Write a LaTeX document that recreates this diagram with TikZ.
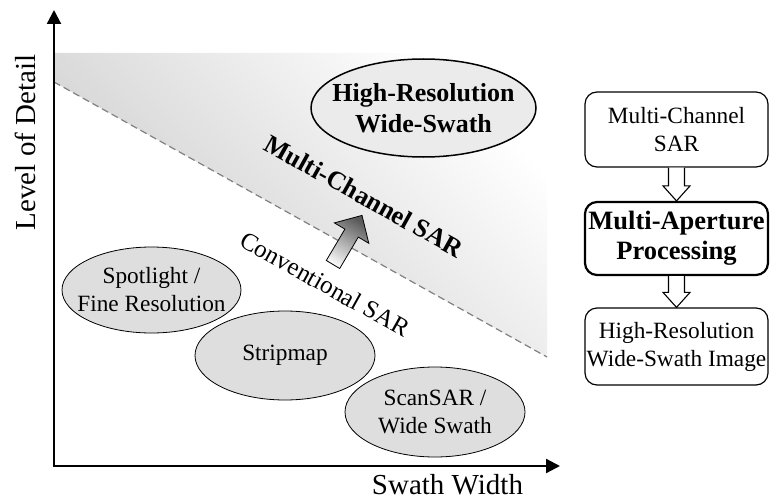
\documentclass[tikz,border=0pt]{standalone}
\usepackage{fontspec}
\setmainfont{Liberation Serif}
\usetikzlibrary{shapes.geometric,arrows.meta,calc}
\begin{document}
\begin{tikzpicture}[x=1pt,y=-1pt,
  lbl/.style={font=\fontsize{23.3}{28}\selectfont, align=center, inner sep=0pt},
  mode/.style={ellipse, draw, line width=0.8pt, fill=black!13, inner sep=0pt},
  axislbl/.style={font=\fontsize{29}{34}\selectfont, inner sep=0pt},
  flowbox/.style={rectangle, rounded corners=12pt, draw, line width=1.2pt, minimum width=183pt, inner sep=0pt, lbl},
  hollow/.style={draw, line width=1.1pt, fill=white, line join=miter},
  axisline/.style={line width=2.2pt, {Triangle[length=14pt,width=14pt]}-{Triangle[length=14pt,width=14pt]}},
]
\useasboundingbox (0,0) rectangle (770,500);
% shaded band
\coordinate (bandTL) at (54,53);
\coordinate (bandTR) at (547,53);
\coordinate (bandBR) at (547,357);
\coordinate (bandBL) at (54,82);
\shade[top color=white, bottom color=black!21, shading angle=-45] (bandTL) -- (bandTR) -- (bandBR) -- (bandBL) -- cycle;
\draw[black!50, line width=1.2pt, dash pattern=on 7pt off 4pt] (bandBL) -- (bandBR);
% axes
\coordinate (O) at (54,466);
\coordinate (ytip) at (54,10);
\coordinate (xtip) at (560,466);
\draw[axisline] (ytip) -- (O) -- (xtip);
\node[axislbl, rotate=90] (ylab) at (25,142.5) {Level of Detail};
\node[axislbl, anchor=base] (xlab) at (447.5,494) {Swath Width};
% modes
\node[mode, minimum width=179pt, minimum height=86pt, label={[lbl]center:{Spotlight /\\Fine Resolution}}] (spot) at (151.5,290) {};
\node[mode, minimum width=180pt, minimum height=89pt, label={[lbl]center:Stripmap}] (strip) at (285,355.5) {};
\node[mode, minimum width=180pt, minimum height=90pt, label={[lbl]center:{ScanSAR /\\Wide Swath}}] (scan) at (435,412) {};
\node[ellipse, draw, line width=1.5pt, fill=black!8, inner sep=0pt, minimum width=225pt, minimum height=98pt,
  label={[inner sep=0pt, align=center, font=\bfseries\fontsize{26}{31}\selectfont]center:{High-Resolution\\Wide-Swath}}] (hrws) at (423.5,108) {};
% rotated labels
\node[font=\bfseries\fontsize{26}{31}\selectfont, rotate=-29.2, inner sep=0pt] (mcs) at (364,196) {Multi-Channel SAR};
\node[font=\fontsize{25}{30}\selectfont, rotate=-29.2, inner sep=0pt] (conv) at (325,284) {Conventional SAR};
% gradient arrow
\coordinate (gaA) at (326.3,260.5);
\coordinate (gaB) at (344.9,229.1);
\coordinate (gaC) at (334.4,222.9);
\coordinate (gaTip) at (362,215.4);
\coordinate (gaD) at (368.8,243.3);
\coordinate (gaE) at (358.3,237.1);
\coordinate (gaF) at (339.7,268.5);
\shadedraw[line width=0.8pt, top color=black!65, bottom color=black!4, shading angle=-30.6, line join=miter]
  (gaA) -- (gaB) -- (gaC) -- (gaTip) -- (gaD) -- (gaE) -- (gaF) -- cycle;
% flow boxes
\node[flowbox, minimum height=75pt] (b1) at (676.5,129.5) {Multi-Channel\\SAR};
\node[flowbox, minimum height=73pt, line width=2.2pt, font=\bfseries\fontsize{26.5}{30}\selectfont] (b2) at (676.5,238.5) {Multi-Aperture\\Processing};
\node[flowbox, minimum height=77pt] (b3) at (676.5,346.5) {High-Resolution\\Wide-Swath Image};
\draw[hollow] ($(b1.south)+(-8,0)$) -- ($(b2.north)+(-8,-15)$) -- ($(b2.north)+(-13.5,-15)$) -- (b2.north) -- ($(b2.north)+(13.5,-15)$) -- ($(b2.north)+(8,-15)$) -- ($(b1.south)+(8,0)$);
\draw[hollow] ($(b2.south)+(-8,0)$) -- ($(b3.north)+(-8,-15)$) -- ($(b3.north)+(-13.5,-15)$) -- (b3.north) -- ($(b3.north)+(13.5,-15)$) -- ($(b3.north)+(8,-15)$) -- ($(b2.south)+(8,0)$);
\end{tikzpicture}
\end{document}
